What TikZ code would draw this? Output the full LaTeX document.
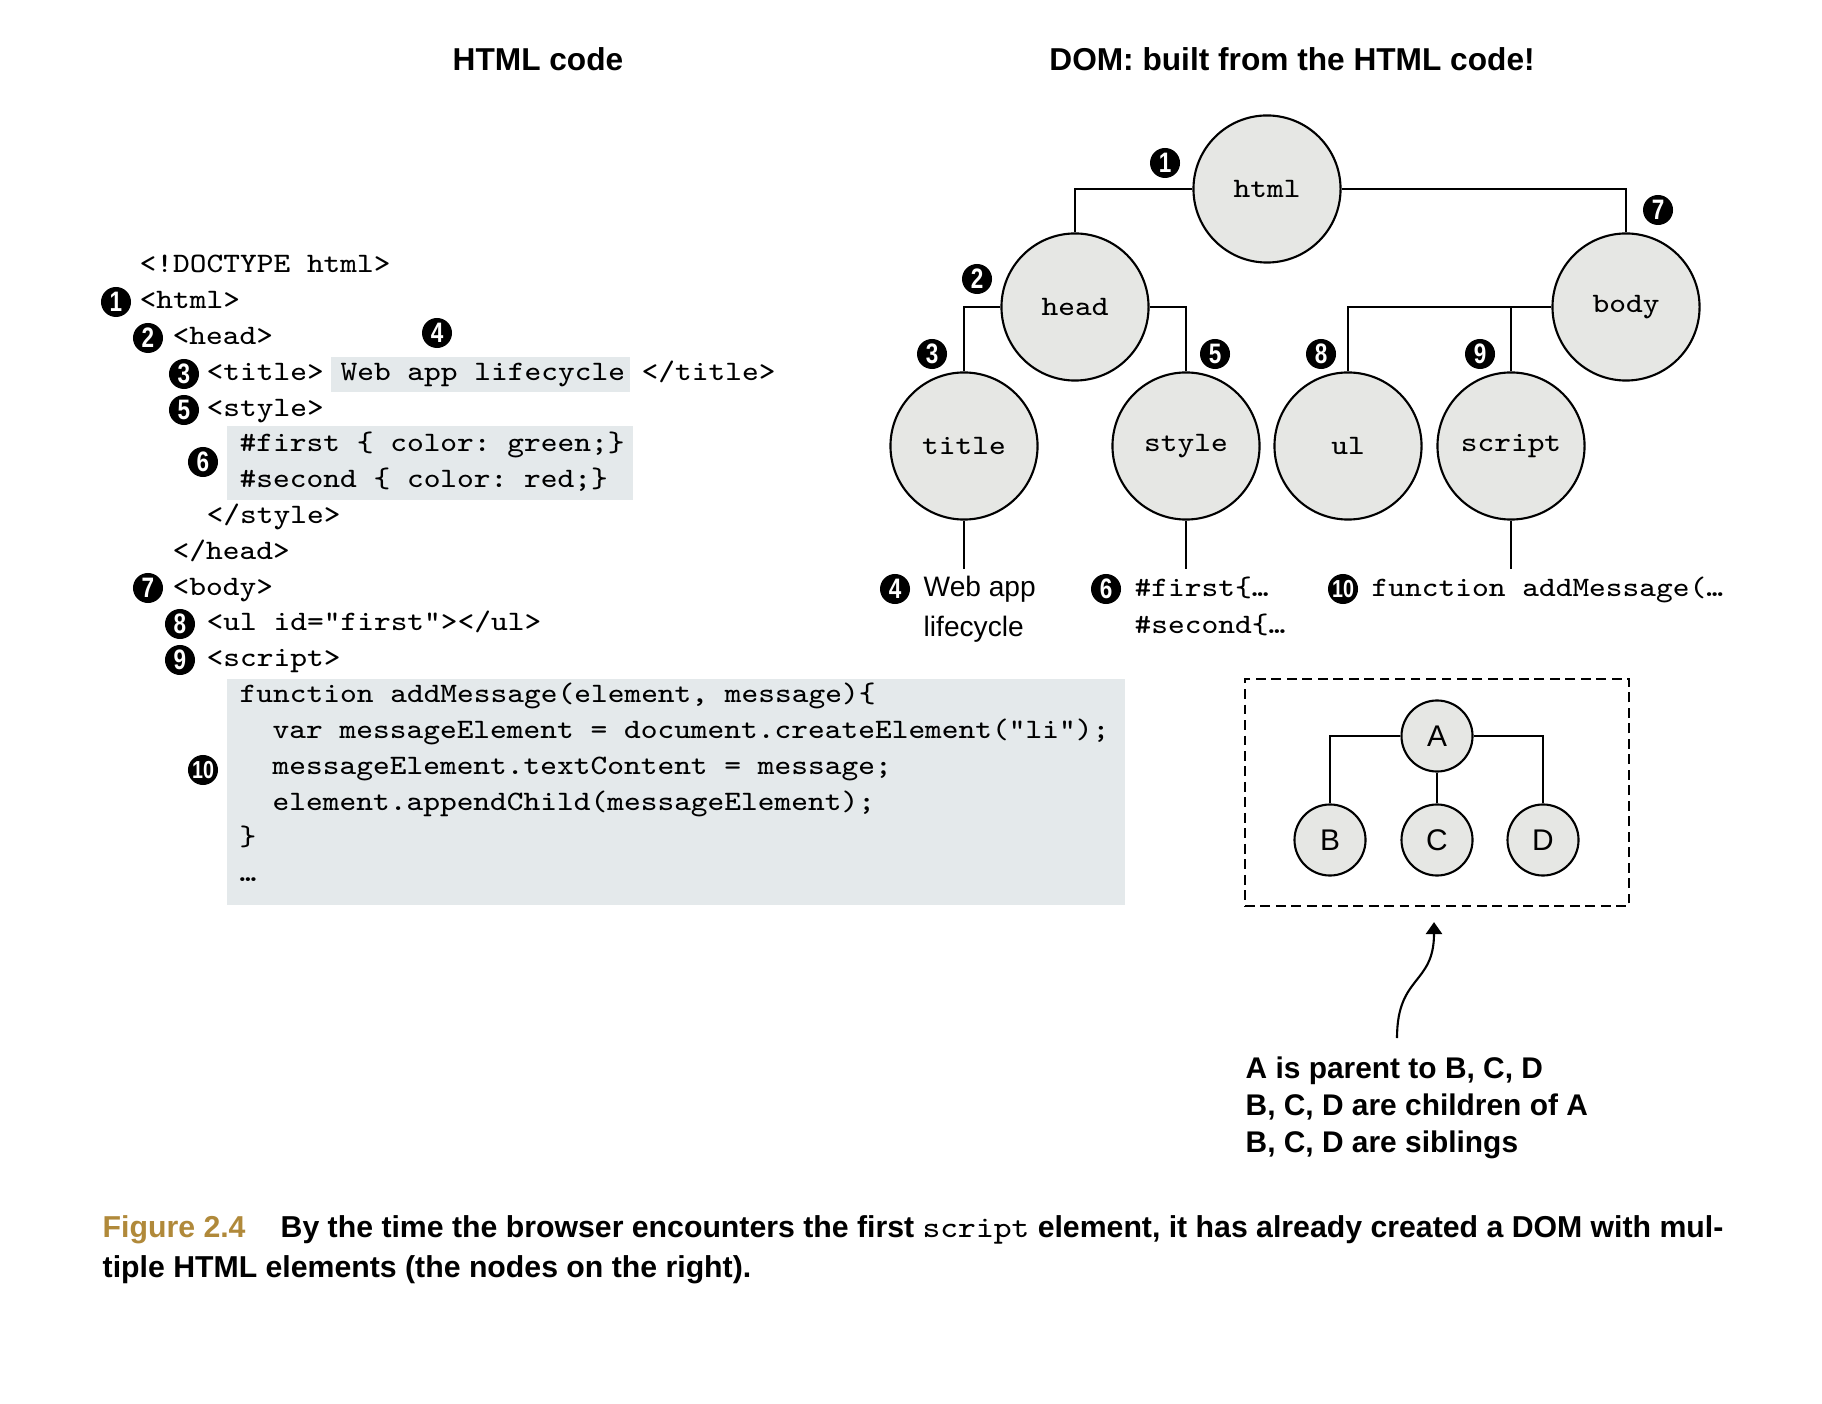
\documentclass[tikz,border=0pt]{standalone}
\usepackage{fontspec}
\usepackage{graphicx}
\setsansfont{Liberation Sans}
\newfontfamily\codefont[FakeStretch=1.12]{Latin Modern Mono}
\newfontfamily\numfont[FakeStretch=0.8]{Liberation Sans}
\usetikzlibrary{arrows.meta,positioning}
\definecolor{nodefill}{RGB}{230,231,228}
\definecolor{codebg}{HTML}{E4E9EB}
\definecolor{figgold}{HTML}{B0893A}
\frenchspacing

\begin{document}
\begin{tikzpicture}[x=0.01cm,y=-0.01cm,
    code/.style={font=\codefont\fontsize{8}{9.6}\selectfont,anchor=base west,inner sep=0pt},
    num/.style={circle,fill=black,text=white,inner sep=0pt,minimum size=0.30cm,font=\numfont\bfseries\fontsize{8}{8}\selectfont},
    dom/.style={circle,draw,fill=nodefill,line width=0.6pt,minimum size=1.47cm,inner sep=0pt,font=\codefont\fontsize{8}{8}\selectfont},
    mini/.style={circle,draw,fill=nodefill,line width=0.6pt,minimum size=0.71cm,inner sep=0pt,font=\sffamily\fontsize{8.5}{8.5}\selectfont},
    heading/.style={font=\sffamily\bfseries\fontsize{9}{10}\selectfont,anchor=base,inner sep=0pt},
    leaf/.style={font=\sffamily\fontsize{8}{9}\selectfont,anchor=base west,inner sep=0pt},
    note/.style={font=\sffamily\bfseries\fontsize{8.5}{10}\selectfont,anchor=base west,inner sep=0pt},
    link/.style={line width=0.6pt},
    arr/.style={-{Triangle[length=3.4pt,width=4.6pt]},line width=0.6pt},
]
\useasboundingbox (0,0) rectangle (1822,1404);

% headings
\node[heading] (hcode) at (538,71) {HTML code};
\node[heading] (hdom) at (1292,71) {DOM: built from the HTML code!};

% highlighted parts of the code
\fill[codebg] (331,357) rectangle (630,392);
\fill[codebg] (227,426) rectangle (633,500);
\fill[codebg] (227,679) rectangle (1125,905);

% HTML code
\node[code] (doctype) at (139,273) {<!DOCTYPE html>};
\node[code] (lhtml) at (139,308.8) {<html>};
\node[code] (lhead) at (172,344.6) {<head>};
\node[code] (ltitle) at (206,380.4) {<title> Web app lifecycle </title>};
\node[code] (lstyle) at (206,416.2) {<style>};
\node[code] (lfirst) at (239,452) {\#first \{ color: green;\}};
\node[code] (lsecond) at (239,487.8) {\#second \{ color: red;\}};
\node[code] (lstyleend) at (206,523.6) {</style>};
\node[code] (lheadend) at (172,559.4) {</head>};
\node[code] (lbody) at (172,595.2) {<body>};
\node[code] (lul) at (206,631) {<ul id="first"></ul>};
\node[code] (lscript) at (206,666.8) {<script>};
\node[code] (lfun) at (239,702.6) {function addMessage(element, message)\{};
\node[code] (lvar) at (272,738.4) {var messageElement = document.createElement("li");};
\node[code] (ltext) at (272,774.2) {messageElement.textContent = message;};
\node[code] (lappend) at (272,810) {element.appendChild(messageElement);};
\node[code] (lclose) at (239,845.8) {\}};
\node[code] (ldots) at (239,881.6) {\ldots};

\node[num] (c1) at (116,302) {1};
\node[num] (c2) at (148,338) {2};
\node[num] (c3) at (184,374) {3};
\node[num] (c4) at (437,333) {4};
\node[num] (c5) at (184,410) {5};
\node[num] (c6) at (203,462) {6};
\node[num] (c7) at (148,588) {7};
\node[num] (c8) at (180,624) {8};
\node[num] (c9) at (180,660) {9};
\node[num,font=\numfont\bfseries\fontsize{7}{7}\selectfont] (c10) at (203,770) {10};

% DOM tree
\node[dom] (html) at (1267,189) {html};
\node[dom] (head) at (1075,307) {head};
\node[dom] (body) at (1626,307) {body};
\node[dom] (title) at (964,446) {title};
\node[dom] (style) at (1186,446) {style};
\node[dom] (ul) at (1348,446) {ul};
\node[dom] (script) at (1511,446) {script};

\draw[link] (html.west) -| (head.north);
\draw[link] (html.east) -| (body.north);
\draw[link] (head.west) -| (title.north);
\draw[link] (head.east) -| (style.north);
\draw[link] (body.west) -| (ul.north);
\draw[link] (body.west -| script.north) -- (script.north);
\draw[link] (title.south) -- ++(0,48);
\draw[link] (style.south) -- ++(0,48);
\draw[link] (script.south) -- ++(0,48);

\node[num] (t1) at (1165,163) {1};
\node[num] (t2) at (977,279) {2};
\node[num] (t3) at (932,354) {3};
\node[num] (t5) at (1215,354) {5};
\node[num] (t7) at (1658,210) {7};
\node[num] (t8) at (1321,354) {8};
\node[num] (t9) at (1480,354) {9};

% leaves
\node[num] (t4) at (895,589) {4};
\node[leaf] (webapp) at (923,597) {Web app};
\node[leaf] (lifecycle) at (923,637) {lifecycle};
\node[num] (t6) at (1106,589) {6};
\node[code] (dfirst) at (1134,597) {\#first\{\ldots};
\node[code] (dsecond) at (1134,634) {\#second\{\ldots};
\node[num,font=\numfont\bfseries\fontsize{7}{7}\selectfont] (t10) at (1343,589) {10};
\node[code] (dfun) at (1371,597) {function addMessage(\ldots};

% parent / children example
\node[draw,dashed,dash pattern=on 2.8pt off 1.6pt,line width=0.6pt,minimum width=3.84cm,minimum height=2.27cm,inner sep=0pt] (grp) at (1437,792.5) {};
\node[mini] (A) at (1437,736) {A};
\node[mini] (B) at (1330,840) {B};
\node[mini] (C) at (1437,840) {C};
\node[mini] (D) at (1543,840) {D};
\draw[link] (A.west) -| (B.north);
\draw[link] (A.east) -| (D.north);
\draw[link] (A) -- (C);

\coordinate (tail) at (1397,1038);
\coordinate (tip) at ([shift={(-3,15)}]grp.south);
\draw[arr] (tail) .. controls (1397,975) and (1434,985) .. (tip);

\node[note] (n1) at (1245,1078) {A is parent to B, C, D};
\node[note] (n2) at (1245,1115) {B, C, D are children of A};
\node[note] (n3) at (1245,1152) {B, C, D are siblings};

% caption
\node[anchor=base west,inner sep=0pt,text=figgold,font=\sffamily\bfseries\fontsize{8.6}{10}\selectfont] (fig) at (102,1237) {Figure 2.4};
\node[anchor=base west,inner sep=0pt,font=\sffamily\bfseries\fontsize{8.6}{10}\selectfont] (cap1) at (280,1237) {By the time the browser encounters the first {\codefont\mdseries script} element, it has already created a DOM with mul-};
\node[anchor=base west,inner sep=0pt,font=\sffamily\bfseries\fontsize{8.6}{10}\selectfont] (cap2) at (102,1277) {tiple HTML elements (the nodes on the right).};
\end{tikzpicture}
\end{document}
